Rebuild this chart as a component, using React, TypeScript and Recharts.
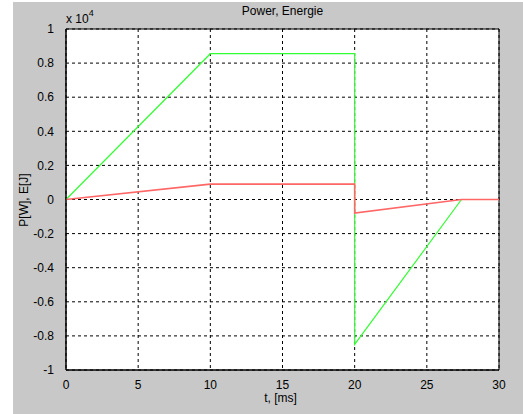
import React from 'react';
import { LineChart, Line, XAxis, YAxis, CartesianGrid, ReferenceArea } from 'recharts';

// values in units of 1e4 (as in the "x 10^4" axis multiplier)
const powerT = [0, 10, 20, 20, 27.4, 30];
const powerP = [0, 0.855, 0.855, -0.85, 0, 0];
const energyT = [0, 10, 20, 20, 27.4, 30];
const energyE = [0, 0.09, 0.09, -0.08, 0, 0];

const xTicks = [0, 5, 10, 15, 20, 25, 30];
const yTicks = [-1, -0.8, -0.6, -0.4, -0.2, 0, 0.2, 0.4, 0.6, 0.8, 1];

const powerData = powerT.map((t, i) => ({ t, v: powerP[i] }));
const energyData = energyT.map((t, i) => ({ t, v: energyE[i] }));

const font = '"Liberation Sans", Arial, sans-serif';
const fmt = (v: number) => String(Math.round(v * 10) / 10);

export default function App() {
  return (
    <div style={{ position: 'absolute', left: 0, top: 0, width: 523, height: 414, background: '#fff', fontFamily: font }}>
      <div style={{ position: 'absolute', left: 13, top: 2, width: 510, height: 412, background: '#c8c8c8' }} />
      <div style={{ position: 'absolute', left: 0, top: 0 }}>
        <LineChart width={523} height={414} margin={{ top: 29, right: 24, bottom: 0, left: 26 }}>
          <CartesianGrid stroke="#000" strokeDasharray="3 3" fill="#fff" fillOpacity={1} />
          <XAxis
            type="number"
            dataKey="t"
            domain={[0, 30]}
            ticks={xTicks}
            allowDuplicatedCategory={false}
            tickLine={false}
            tickMargin={4}
            height={44}
            axisLine={{ stroke: '#000' }}
            tick={{ fill: '#000', fontSize: 12, fontFamily: font }}
          />
          <XAxis xAxisId="top" orientation="top" type="number" dataKey="t" domain={[0, 30]} ticks={xTicks}
            tick={false} mirror height={0} tickSize={5} axisLine={false} tickLine={{ stroke: '#000' }} />
          <XAxis xAxisId="bot2" orientation="bottom" type="number" dataKey="t" domain={[0, 30]} ticks={xTicks}
            tick={false} mirror height={0} tickSize={5} axisLine={false} tickLine={{ stroke: '#000' }} />
          <YAxis
            type="number"
            domain={[-1, 1]}
            ticks={yTicks}
            tickLine={false}
            tickMargin={6}
            width={40}
            axisLine={{ stroke: '#000' }}
            tickFormatter={fmt}
            tick={{ fill: '#000', fontSize: 12, fontFamily: font }}
          />
          <YAxis yAxisId="right" orientation="right" type="number" domain={[-1, 1]} ticks={yTicks}
            tick={false} mirror width={0} tickSize={5} axisLine={false} tickLine={{ stroke: '#000' }} />
          <YAxis yAxisId="left2" orientation="left" type="number" domain={[-1, 1]} ticks={yTicks}
            tick={false} mirror width={0} tickSize={5} axisLine={false} tickLine={{ stroke: '#000' }} />
          <Line data={powerData} dataKey="v" type="linear" stroke="#33ff33" strokeWidth={1.2} dot={false} isAnimationActive={false} />
          <Line data={energyData} dataKey="v" type="linear" stroke="#ff6666" strokeWidth={1.6} dot={false} isAnimationActive={false} />
          <ReferenceArea x1={0} x2={30} y1={-1} y2={1} fill="none" stroke="#000" strokeWidth={1} ifOverflow="visible" />
        </LineChart>
      </div>
      <div style={{ position: 'absolute', left: 0, width: 565, top: 4, textAlign: 'center', fontSize: 12 }}>Power, Energie</div>
      <div style={{ position: 'absolute', left: 66, top: 10, fontSize: 12 }}>
        x 10<sup style={{ fontSize: 9, position: 'relative', top: -2 }}>4</sup>
      </div>
      <div style={{ position: 'absolute', left: 0, width: 561, top: 391, textAlign: 'center', fontSize: 12 }}>t, [ms]</div>
      <div style={{ position: 'absolute', left: 24, top: 200, fontSize: 12, transform: 'translate(-50%, -50%) rotate(-90deg)', whiteSpace: 'nowrap' }}>P[W], E[J]</div>
    </div>
  );
}
